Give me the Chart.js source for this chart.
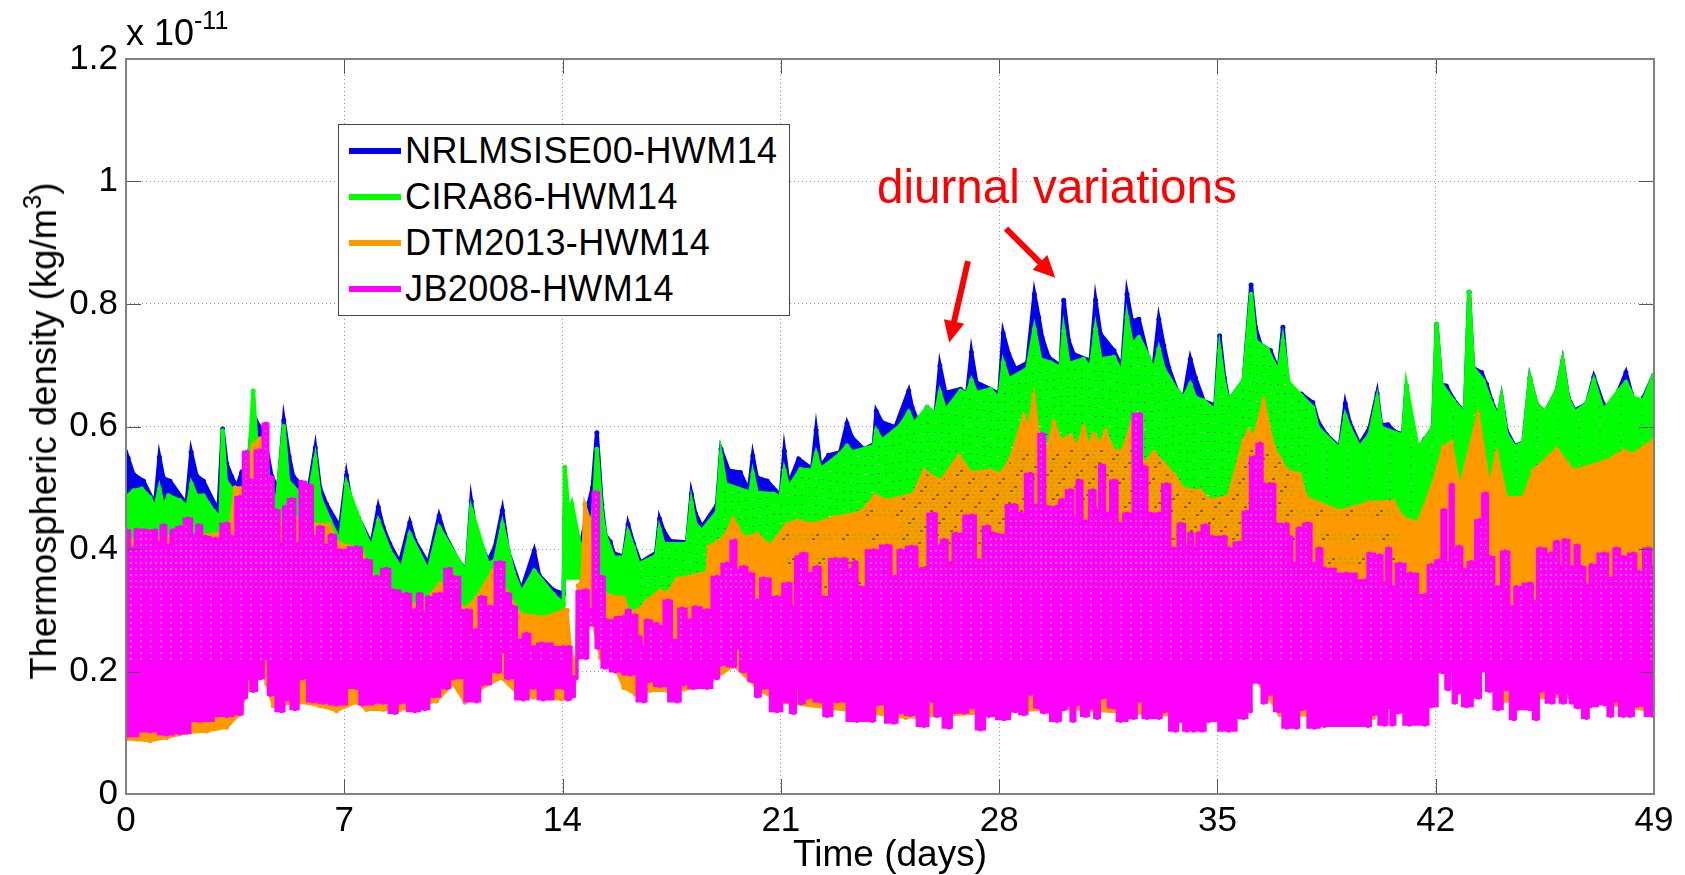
<!DOCTYPE html>
<html>
<head>
<meta charset="utf-8">
<title>Thermospheric density</title>
<script src="https://cdn.jsdelivr.net/npm/chart.js@4/dist/chart.umd.js"></script>
<style>
    html, body { margin: 0; padding: 0; background: #fff; }
    body { width: 1685px; height: 875px; overflow: hidden; position: relative; font-family: "Liberation Sans", Arial, sans-serif; color: #000; }
    canvas { position: absolute; left: 0; top: 0; }
    #multiplier { position: absolute; left: 126px; top: 11px; font-size: 36px; line-height: 44px; white-space: nowrap; }
    #multiplier sup { font-size: 25px; line-height: 0; position: relative; top: -3px; vertical-align: super; }
    #note { position: absolute; left: 877px; top: 159px; font-size: 47.6px; line-height: 56px; color: #f00; white-space: nowrap; }
    #legend { position: absolute; left: 338px; top: 124px; width: 450px; height: 190px; background: #fff; border: 1px solid #444; }
    #legend div { position: absolute; left: 66px; font-size: 36px; line-height: 40px; white-space: nowrap; letter-spacing: .4px; }
    #legend i { position: absolute; left: -56px; top: 17px; width: 52px; height: 6px; }
    #ytitle { position: absolute; left: 44px; top: 431px; font-size: 36.5px; line-height: 40px; white-space: nowrap; transform: translate(-50%, -50%) rotate(-90deg); }
    #ytitle sup { font-size: 26px; line-height: 0; position: relative; top: -2px; vertical-align: super; }
</style>
</head>
<body>
<canvas id="chart_densidad" width="1685" height="875"></canvas>
<div id="multiplier">x 10<sup>-11</sup></div>
<div id="ytitle">Thermospheric density (kg/m<sup>3</sup>)</div>
<div id="note">diurnal variations</div>
<div id="legend"></div>

<script>
// ejes
const xTicks = [0, 7, 14, 21, 28, 35, 42, 49];
const yTicks = [0, 0.2, 0.4, 0.6, 0.8, 1, 1.2];
const modelNames = ["NRLMSISE00-HWM14", "CIRA86-HWM14", "DTM2013-HWM14", "JB2008-HWM14"];

// envolventes: [dia, densidad x 1e-11]
const nrlTop = [[0,.49],[.07,.548],[.24,.522],[.56,.511],[.93,.473],[1.07,.55],[1.2,.516],[1.41,.511],[1.94,.473],[2.09,.558],[2.26,.52],[2.48,.511],[2.96,.462],[3.1,.596],[3.23,.539],[3.39,.518],[3.55,.501],[3.71,.525],[3.87,.517],[4.08,.62],[4.27,.6],[4.46,.578],[4.67,.519],[4.88,.498],[5.06,.61],[5.23,.551],[5.36,.519],[5.84,.492],[6.07,.565],[6.22,.5],[6.43,.473],[6.86,.435],[7.07,.52],[7.23,.473],[7.45,.451],[7.87,.408],[8.09,.468],[8.25,.435],[8.46,.408],[8.78,.378],[9.1,.443],[9.26,.414],[9.69,.376],[10.04,.454],[10.22,.424],[10.65,.381],[10.92,.365],[11.07,.478],[11.22,.427],[11.61,.381],[11.83,.403],[12.07,.463],[12.25,.397],[12.68,.333],[13.09,.397],[13.25,.357],[13.7,.333],[14.03,.327],[14.07,.45],[14.15,.43],[14.5,.39],[14.6,.41],[14.84,.475],[14.96,.5],[15.1,.59],[15.26,.472],[15.37,.423],[15.53,.412],[15.64,.393],[15.96,.388],[16.1,.44],[16.28,.408],[16.49,.378],[17,.394],[17.11,.449],[17.24,.43],[17.45,.413],[17.99,.411],[18.13,.49],[18.26,.458],[18.47,.436],[18.95,.472],[19.08,.563],[19.33,.528],[19.7,.525],[19.97,.495],[20.1,.552],[20.23,.517],[20.56,.511],[20.99,.487],[21.11,.56],[21.25,.506],[21.57,.547],[22,.531],[22.13,.594],[22.27,.534],[22.53,.553],[22.9,.558],[23.12,.605],[23.28,.582],[23.66,.563],[23.98,.571],[24.06,.625],[24.24,.607],[24.67,.599],[25.1,.658],[25.21,.631],[25.43,.604],[25.69,.631],[25.96,.62],[26.1,.699],[26.28,.655],[26.76,.661],[26.97,.653],[27.11,.721],[27.27,.672],[27.72,.661],[28,.653],[28.13,.752],[28.31,.718],[28.52,.694],[28.9,.704],[29.13,.816],[29.27,.778],[29.38,.745],[29.59,.713],[29.97,.699],[30.07,.806],[30.23,.74],[30.39,.718],[30.93,.707],[31.09,.806],[31.25,.751],[31.68,.724],[31.94,.696],[32.1,.816],[32.26,.772],[32.48,.775],[32.8,.707],[32.96,.702],[33.12,.775],[33.28,.732],[33.44,.696],[33.71,.658],[33.92,.647],[34.13,.71],[34.29,.68],[34.56,.642],[34.93,.634],[35.07,.748],[35.22,.68],[35.36,.642],[35.84,.675],[36.08,.831],[36.22,.762],[36.38,.734],[36.7,.724],[36.96,.691],[37.1,.762],[37.23,.683],[37.31,.647],[37.69,.653],[38.06,.639],[38.22,.609],[38.49,.587],[38.92,.566],[39.1,.637],[39.24,.607],[39.56,.571],[39.88,.598],[40.12,.654],[40.25,.603],[40.47,.603],[40.68,.592],[40.95,.587],[41.06,.666],[41.22,.598],[41.43,.563],[41.65,.579],[41.91,.598],[42.03,.767],[42.18,.669],[42.34,.666],[42.56,.645],[42.77,.631],[42.93,.62],[43.07,.819],[43.2,.696],[43.47,.688],[43.63,.669],[43.79,.642],[44,.615],[44.11,.647],[44.27,.593],[44.54,.568],[44.81,.574],[45.02,.679],[45.23,.637],[45.5,.623],[45.88,.658],[46.07,.707],[46.25,.647],[46.46,.626],[46.84,.637],[47.07,.681],[47.37,.637],[47.48,.626],[47.86,.658],[48.1,.688],[48.28,.653],[48.5,.631],[48.66,.647],[48.98,.683]];
const nrlBot = [[0,.3],[10,.25],[14,.22],[14.08,.36],[14.55,.36],[14.75,.3],[15,.3],[15.4,.25],[21,.25],[49,.3]];

const ciraTop = [[0,.484],[.24,.495],[.5,.498],[.77,.484],[.93,.465],[1.07,.498],[1.2,.468],[1.36,.487],[1.73,.479],[1.97,.468],[2.1,.506],[2.26,.487],[2.48,.487],[2.8,.462],[3.03,.451],[3.1,.593],[3.2,.511],[3.44,.495],[3.55,.49],[3.76,.495],[3.92,.517],[4.08,.658],[4.19,.567],[4.46,.56],[4.62,.5],[4.83,.476],[5.06,.6],[5.2,.511],[5.58,.49],[5.84,.479],[6.07,.547],[6.22,.484],[6.54,.446],[6.86,.413],[7.07,.506],[7.39,.46],[7.87,.4],[8.09,.446],[8.46,.397],[8.84,.367],[9.1,.424],[9.69,.364],[10.04,.435],[10.7,.378],[10.92,.362],[11.07,.465],[11.61,.375],[11.83,.381],[12.07,.44],[12.42,.362],[12.68,.329],[13.09,.364],[13.7,.326],[14.03,.31],[14.07,.533],[14.2,.457],[14.3,.473],[14.55,.408],[14.8,.39],[15,.47],[15.1,.563],[15.26,.457],[15.37,.422],[15.64,.386],[15.96,.386],[16.1,.427],[16.28,.402],[16.44,.375],[17,.389],[17.11,.432],[17.24,.408],[17.99,.408],[18.13,.476],[18.26,.44],[18.47,.43],[18.95,.46],[19.08,.552],[19.22,.506],[20.02,.492],[20.1,.522],[20.23,.492],[20.77,.49],[20.98,.484],[21.11,.528],[21.25,.5],[21.63,.53],[22,.528],[22.13,.555],[22.27,.53],[22.9,.555],[23.12,.568],[23.28,.558],[23.98,.568],[24.06,.593],[24.24,.577],[24.83,.601],[25.1,.623],[25.26,.604],[25.69,.631],[25.96,.62],[26.1,.655],[26.28,.626],[26.76,.658],[26.97,.653],[27.11,.675],[27.27,.655],[27.72,.661],[28,.645],[28.13,.704],[28.31,.677],[28.9,.694],[29.13,.759],[29.32,.71],[29.65,.704],[29.97,.696],[30.07,.756],[30.23,.702],[30.71,.71],[30.93,.694],[31.09,.759],[31.25,.71],[31.68,.713],[31.94,.685],[32.1,.778],[32.26,.734],[32.48,.745],[32.8,.713],[32.96,.69],[33.12,.726],[33.28,.694],[33.71,.658],[33.92,.647],[34.13,.669],[34.29,.647],[34.56,.642],[34.93,.626],[35.07,.724],[35.22,.669],[35.36,.642],[35.84,.675],[36.08,.816],[36.22,.74],[36.6,.726],[36.96,.688],[37.1,.74],[37.28,.672],[37.69,.65],[38.06,.631],[38.22,.598],[38.92,.563],[39.1,.617],[39.24,.598],[39.56,.566],[39.88,.587],[40.12,.645],[40.25,.598],[40.95,.585],[41.06,.666],[41.43,.563],[41.91,.598],[42.03,.767],[42.18,.669],[42.56,.642],[42.93,.62],[43.07,.819],[43.2,.696],[43.52,.675],[43.79,.637],[44,.615],[44.11,.647],[44.27,.587],[44.54,.566],[44.81,.574],[45.02,.679],[45.23,.637],[45.5,.623],[45.88,.658],[46.07,.707],[46.25,.645],[46.46,.623],[46.84,.637],[47.07,.675],[47.37,.626],[47.86,.658],[48.1,.672],[48.34,.647],[48.66,.642],[48.98,.683]];
const ciraBot = [[0,.3],[10,.25],[14,.22],[14.08,.35],[14.55,.35],[14.75,.3],[15,.3],[15.4,.25],[21,.25],[49,.3]];

const dtmTop = [[0,.41],[.5,.42],[2,.42],[3,.425],[3.35,.44],[3.5,.5],[3.8,.5],[4.08,.57],[4.3,.58],[4.5,.52],[4.85,.44],[5.2,.45],[5.6,.45],[6,.44],[6.5,.44],[6.8,.41],[7.5,.4],[8,.35],[8.5,.33],[9,.31],[9.5,.31],[10.06,.343],[10.3,.325],[10.87,.302],[11.24,.32],[11.77,.365],[12.2,.33],[12.63,.294],[13.37,.288],[14.07,.3],[14.15,.3],[14.25,.24],[14.42,.2],[14.5,.34],[14.62,.35],[14.71,.473],[14.85,.45],[14.95,.3],[15.09,.3],[15.37,.326],[15.96,.32],[16.12,.299],[16.4,.299],[16.7,.315],[17.13,.332],[17.35,.328],[17.67,.351],[18.63,.362],[18.68,.403],[19.17,.419],[19.47,.449],[19.81,.419],[20.24,.424],[20.66,.405],[21.2,.441],[21.53,.446],[22.05,.441],[22.69,.451],[23.55,.46],[24.03,.487],[24.4,.479],[25.26,.49],[25.59,.528],[26.12,.511],[26.71,.552],[27.08,.525],[27.72,.528],[28.04,.522],[28.36,.547],[28.79,.617],[28.95,.598],[29.11,.65],[29.27,.582],[29.54,.56],[29.75,.607],[29.97,.577],[30.29,.585],[30.5,.566],[30.71,.598],[30.87,.566],[31.03,.587],[31.25,.571],[31.41,.593],[31.68,.56],[31.95,.56],[32.26,.607],[32.64,.539],[32.96,.558],[33.28,.539],[33.6,.522],[33.92,.498],[34.45,.495],[34.77,.479],[35.36,.487],[35.84,.577],[36,.593],[36.16,.582],[36.48,.642],[36.8,.566],[37.23,.528],[37.63,.522],[37.85,.484],[38.92,.462],[39.88,.476],[40.63,.478],[40.95,.451],[41.43,.443],[41.91,.506],[42.24,.566],[42.5,.574],[42.77,.5],[43.36,.62],[43.73,.5],[43.95,.557],[44.27,.484],[44.81,.484],[45.13,.528],[45.88,.563],[46.41,.528],[47.48,.544],[48.02,.56],[48.34,.555],[48.98,.577]];
const dtmBot = [[0,.09],[.77,.087],[1.3,.092],[1.94,.1],[2.59,.103],[3.23,.109],[3.65,.131],[3.87,.169],[4.4,.201],[4.51,.18],[4.72,.144],[5.58,.15],[6.22,.144],[6.75,.136],[7.39,.15],[7.71,.138],[8.25,.138],[8.78,.138],[9.32,.144],[9.96,.152],[10.49,.18],[10.87,.15],[11.35,.171],[12.04,.19],[12.52,.166],[13.06,.158],[13.96,.155],[14.12,.16],[14.42,.19],[14.5,.24],[14.9,.28],[14.99,.277],[15.21,.223],[15.4,.223],[15.74,.2],[15.96,.174],[16.33,.163],[16.8,.169],[17.35,.169],[17.88,.171],[18.5,.175],[19.5,.21],[20.3,.17],[21,.15],[25,.125],[30,.14],[33,.13],[35,.125],[36.2,.19],[37,.13],[40,.125],[42.2,.21],[43.4,.23],[44,.15],[46,.16],[49,.135]];

const jbTop = [[0,.43],[.24,.4],[.34,.431],[.93,.43],[1.04,.408],[1.2,.438],[1.36,.405],[1.52,.43],[1.73,.435],[2,.449],[2.21,.422],[2.32,.438],[2.54,.419],[2.85,.416],[3.23,.441],[3.39,.419],[3.65,.484],[3.87,.558],[3.97,.512],[4.3,.56],[4.49,.604],[4.62,.517],[4.83,.462],[4.99,.408],[5.1,.468],[5.31,.481],[5.52,.408],[5.63,.509],[5.9,.503],[6.06,.419],[6.22,.435],[6.43,.405],[6.59,.422],[6.86,.397],[7.39,.402],[7.71,.381],[8.03,.354],[8.35,.367],[8.57,.332],[9,.326],[9.26,.299],[9.42,.326],[9.58,.294],[9.69,.321],[10.06,.326],[10.38,.367],[10.49,.354],[10.92,.299],[11.24,.267],[11.4,.321],[11.67,.305],[12,.378],[12.25,.326],[12.42,.305],[12.63,.25],[12.84,.261],[13.06,.239],[13.32,.245],[14.02,.239],[14.2,.239],[14.34,.19],[14.42,.19],[14.5,.33],[14.75,.332],[14.9,.3],[15.05,.492],[15.26,.354],[15.42,.283],[15.96,.288],[16.12,.299],[16.22,.272],[16.33,.291],[16.44,.256],[16.6,.239],[16.7,.283],[17,.277],[17.13,.272],[17.37,.315],[17.62,.25],[17.83,.302],[18.1,.283],[18.26,.304],[18.63,.299],[18.95,.354],[19.27,.375],[19.52,.413],[19.6,.364],[19.81,.37],[20.02,.359],[20.24,.315],[20.45,.351],[20.87,.321],[21.25,.343],[21.41,.304],[21.53,.386],[21.73,.392],[21.95,.359],[22.16,.37],[22.37,.321],[22.75,.383],[23.02,.383],[23.23,.365],[23.39,.378],[23.5,.337],[23.98,.397],[24.4,.405],[24.67,.354],[24.84,.397],[25.2,.403],[25.53,.367],[25.9,.457],[26.07,.403],[26.23,.414],[26.44,.376],[26.6,.424],[27.13,.454],[27.35,.381],[27.62,.436],[27.78,.425],[27.99,.422],[28.47,.471],[28.68,.457],[29,.522],[29.16,.47],[29.38,.587],[29.54,.468],[29.86,.468],[30.02,.479],[30.29,.495],[30.45,.45],[30.55,.511],[30.77,.444],[31.01,.495],[31.14,.462],[31.3,.536],[31.46,.457],[31.68,.511],[31.89,.44],[32.1,.457],[32.49,.62],[32.64,.533],[32.85,.457],[33.12,.457],[33.36,.505],[33.6,.4],[33.87,.44],[34.02,.4],[34.13,.425],[34.29,.4],[34.4,.425],[34.61,.438],[34.82,.419],[35.2,.419],[35.36,.4],[35.7,.41],[35.95,.46],[36.16,.549],[36.37,.571],[36.5,.505],[36.78,.505],[36.9,.44],[37.23,.44],[37.31,.419],[37.47,.375],[37.63,.433],[37.9,.441],[38.11,.375],[38.27,.4],[38.43,.367],[39.13,.359],[39.77,.348],[39.88,.392],[40.2,.389],[40.36,.343],[40.49,.4],[40.63,.337],[40.84,.375],[41.19,.359],[41.65,.324],[41.86,.373],[42.13,.381],[42.26,.463],[42.4,.375],[42.52,.504],[42.61,.397],[42.75,.403],[42.93,.365],[43.15,.378],[43.41,.446],[43.6,.49],[43.73,.386],[44,.337],[44.22,.395],[44.48,.305],[44.59,.337],[45.02,.343],[45.18,.313],[45.34,.4],[45.72,.392],[45.88,.411],[46.02,.37],[46.14,.414],[46.41,.37],[46.52,.405],[46.68,.37],[46.89,.34],[47,.373],[47.4,.392],[47.64,.351],[47.78,.4],[48.02,.386],[48.34,.392],[48.5,.362],[48.82,.4],[48.98,.37]];
const jbBot = [[0,.095],[.77,.103],[1.3,.098],[1.73,.1],[2.37,.12],[3.23,.128],[3.65,.131],[3.81,.158],[3.92,.19],[4.08,.169],[4.3,.19],[4.51,.223],[4.62,.163],[4.99,.136],[5.15,.155],[5.42,.139],[5.63,.19],[6,.152],[6.32,.15],[6.75,.147],[7.39,.174],[7.6,.147],[8.25,.15],[8.62,.133],[8.78,.15],[9.26,.136],[9.58,.139],[9.85,.16],[10.28,.174],[10.49,.19],[11.24,.152],[11.45,.18],[11.93,.2],[12.09,.234],[12.25,.19],[12.74,.155],[13.06,.174],[13.37,.155],[14.02,.174],[14.18,.155],[14.34,.16],[14.42,.19],[14.5,.223],[14.75,.223],[14.88,.277],[14.99,.277],[15.15,.239],[15.37,.207],[15.69,.201],[16.17,.196],[16.6,.152],[16.76,.185],[17.13,.177],[17.67,.152],[17.88,.18],[18.2,.174],[18.63,.174],[18.95,.19],[19.06,.212],[19.49,.209],[19.6,.24],[19.81,.201],[20.13,.185],[20.24,.16],[20.45,.174],[20.87,.136],[21.2,.152],[21.41,.133],[21.53,.175],[21.65,.149],[21.85,.158],[22.27,.152],[22.48,.128],[22.8,.152],[23.44,.12],[23.93,.12],[24.09,.147],[24.62,.117],[24.84,.134],[25.15,.13],[25.59,.112],[25.85,.153],[26.01,.128],[26.39,.109],[26.55,.134],[26.87,.134],[27.13,.142],[27.4,.106],[27.67,.128],[28.15,.123],[28.52,.136],[28.79,.131],[29,.164],[29.27,.142],[29.43,.134],[29.86,.12],[30.07,.139],[30.23,.147],[30.37,.12],[30.5,.147],[30.77,.128],[30.98,.142],[31.14,.125],[31.3,.158],[31.68,.142],[31.89,.12],[32.32,.125],[32.48,.153],[32.74,.125],[33.12,.125],[33.28,.136],[33.65,.104],[33.81,.12],[34.02,.104],[34.24,.104],[34.5,.104],[34.72,.12],[35.36,.104],[35.84,.125],[36.06,.136],[36.11,.183],[36.38,.183],[36.48,.15],[36.69,.164],[36.96,.136],[37.23,.109],[37.53,.109],[37.69,.139],[38.11,.109],[38.43,.112],[39.83,.112],[39.99,.131],[40.36,.114],[40.52,.142],[40.6,.114],[40.79,.134],[41.16,.114],[41.65,.114],[41.86,.144],[42.24,.199],[42.4,.172],[42.5,.202],[42.61,.15],[42.72,.166],[42.99,.144],[43.36,.158],[43.52,.202],[43.73,.169],[44,.139],[44.27,.172],[44.51,.123],[44.6,.139],[45.02,.139],[45.23,.123],[45.36,.169],[45.72,.15],[45.88,.166],[46.09,.15],[46.25,.166],[46.36,.15],[46.57,.142],[46.84,.125],[46.95,.144],[47.43,.147],[47.61,.128],[47.75,.153],[48.02,.128],[48.23,.128],[48.45,.145],[48.98,.128]];

const noteArrows = [[27, .87, 26.4, .737], [28.22, .923, 29.8, .843]];

// textura punteada de las bandas
function crearTextura(base, puntos) {
    const c = document.createElement('canvas');
    c.width = 1685;
    c.height = 875;
    const g = c.getContext('2d');
    g.fillStyle = base;
    g.fillRect(0, 0, 1685, 875);
    puntos(g);
    return g.createPattern(c, 'no-repeat');
}

const texturaVerde = crearTextura('#00ff00', function(g) {
    for (let y = 300; y < 640; y += 9) {
        for (let x = 640; x < 1654; x += 7) {
            if (x > 1300 && (x + y) % 3 != 0) continue;
            g.fillStyle = (x + y) % 5 == 0 ? '#c8f0c0' : '#1a8a6a';
            g.fillRect(x, y + Math.round(3 * Math.sin(x / 22)), 2, 1);
        }
    }
});
const texturaNaranja = crearTextura('#ff9900', function(g) {
    for (let y = 450; y < 620; y += 4) {
        for (let x = 780 + (y % 8); x < 1400; x += 6) {
            if ((x < 900 || x > 1290) && (x + y) % 3 != 0) continue;
            g.fillStyle = (x + y) % 5 == 0 ? '#706a30' : '#c8a400';
            g.fillRect(x, y, 3, 2);
        }
    }
});
const texturaMagenta = crearTextura('#ff00ff', function(g) {
    for (let y = 400; y < 660; y += 6) {
        for (let x = 130; x < 1654; x += 5) {
            if (x > 1290 && y < 520) continue;
            if (y > 590 && x % 10 != 0) continue;
            g.fillStyle = (x + y) % 4 == 0 ? '#c080d0' : '#f86fb0';
            g.fillRect(x, y, 2, 2);
        }
    }
});

function banda(top, bot, color, textura, capa, escalones) {
    const estilo = {
        borderColor: color,
        backgroundColor: color,
        borderWidth: 4,
        pointRadius: 2.5,
        pointBackgroundColor: color,
        pointBorderWidth: 0,
        stepped: escalones ? 'middle' : false,
        order: capa
    };
    return [
        Object.assign({ data: top, fill: { target: '+1', above: textura, below: textura } }, estilo),
        Object.assign({ data: bot, fill: false }, estilo)
    ];
}

const datasets = [].concat(
    banda(nrlTop, nrlBot, '#0000f0', '#0000f0', 4, false),
    banda(ciraTop, ciraBot, '#00ff00', texturaVerde, 3, false),
    banda(dtmTop, dtmBot, '#ff9900', texturaNaranja, 2, false),
    banda(jbTop, jbBot, '#ff00ff', texturaMagenta, 1, true)
);
datasets.forEach((d, i) => d.label = modelNames[Math.floor(i / 2)]);
// el relleno de las dos primeras se termina bajo las otras
datasets[1].borderWidth = 0; datasets[1].pointRadius = 0;
datasets[3].borderWidth = 0; datasets[3].pointRadius = 0;
datasets[4].borderWidth = 3; datasets[5].borderWidth = 3;
datasets[6].borderWidth = 3; datasets[7].borderWidth = 3;

// caja, marcas hacia dentro y flechas
const adornos = {
    id: 'adornos',
    afterDatasetsDraw: function(chart) {
        const c = chart.ctx, a = chart.chartArea, sx = chart.scales.x, sy = chart.scales.y;
        c.save();
        c.strokeStyle = '#555';
        c.lineWidth = 1;
        c.beginPath();
        xTicks.slice(1, -1).forEach(v => {
            const p = Math.round(sx.getPixelForValue(v)) + .5;
            c.moveTo(p, a.bottom); c.lineTo(p, a.bottom - 15);
            c.moveTo(p, a.top); c.lineTo(p, a.top + 15);
        });
        yTicks.slice(1, -1).forEach(v => {
            const p = Math.round(sy.getPixelForValue(v)) + .5;
            c.moveTo(a.left, p); c.lineTo(a.left + 15, p);
            c.moveTo(a.right, p); c.lineTo(a.right - 15, p);
        });
        c.stroke();
        c.strokeStyle = '#808080';
        c.lineWidth = 2;
        c.strokeRect(a.left, a.top, a.right - a.left, a.bottom - a.top);

        noteArrows.forEach(f => {
            const x0 = sx.getPixelForValue(f[0]), y0 = sy.getPixelForValue(f[1]);
            const x1 = sx.getPixelForValue(f[2]), y1 = sy.getPixelForValue(f[3]);
            const ang = Math.atan2(y1 - y0, x1 - x0);
            c.strokeStyle = '#f00';
            c.fillStyle = '#f00';
            c.lineWidth = 6;
            c.beginPath();
            c.moveTo(x0, y0);
            c.lineTo(x1 - 14 * Math.cos(ang), y1 - 14 * Math.sin(ang));
            c.stroke();
            c.beginPath();
            c.moveTo(x1, y1);
            c.lineTo(x1 - 24 * Math.cos(ang - .45), y1 - 24 * Math.sin(ang - .45));
            c.lineTo(x1 - 24 * Math.cos(ang + .45), y1 - 24 * Math.sin(ang + .45));
            c.closePath();
            c.fill();
        });
        c.restore();
    }
};

const fuenteEjes = { family: '"Liberation Sans", Arial, sans-serif', size: 35 };

const config = {
    type: 'line',
    data: { datasets: datasets },
    plugins: [adornos],
    options: {
        responsive: false,
        animation: false,
        events: [],
        layout: { padding: { left: 8, right: 31, top: 59, bottom: 0 } },
        plugins: { legend: { display: false }, tooltip: { enabled: false } },
        scales: {
            x: {
                type: 'linear',
                min: 0,
                max: 49,
                afterBuildTicks: s => { s.ticks = xTicks.map(v => ({ value: v })); },
                afterFit: s => { s.height = 81; },
                grid: { color: '#999', drawTicks: false },
                border: { display: false, dash: [1, 3] },
                ticks: { color: '#000', font: fuenteEjes, padding: 6, maxRotation: 0, autoSkip: false },
                title: { display: true, text: 'Time (days)', color: '#000', font: { family: fuenteEjes.family, size: 37 }, padding: { top: 0, bottom: -3 } }
            },
            y: {
                min: 0,
                max: 1.2,
                afterBuildTicks: s => { s.ticks = yTicks.map(v => ({ value: v })); },
                afterFit: s => { s.width = 118; },
                grid: { color: '#999', drawTicks: false },
                border: { display: false, dash: [1, 3] },
                ticks: { color: '#000', font: fuenteEjes, padding: 8, callback: v => String(+v.toFixed(1)) }
            }
        }
    }
};

new Chart(document.getElementById('chart_densidad'), config);

// leyenda
var coloresLeyenda = ['#0000f0', '#00ff00', '#ff9900', '#ff00ff'];
var leyenda = document.getElementById('legend');
modelNames.forEach((nombre, i) => {
    var fila = document.createElement('div');
    fila.style.top = (6 + i * 46) + 'px';
    fila.textContent = nombre;
    var muestra = document.createElement('i');
    muestra.style.background = coloresLeyenda[i];
    fila.appendChild(muestra);
    leyenda.appendChild(fila);
});
</script>
</body>
</html>
